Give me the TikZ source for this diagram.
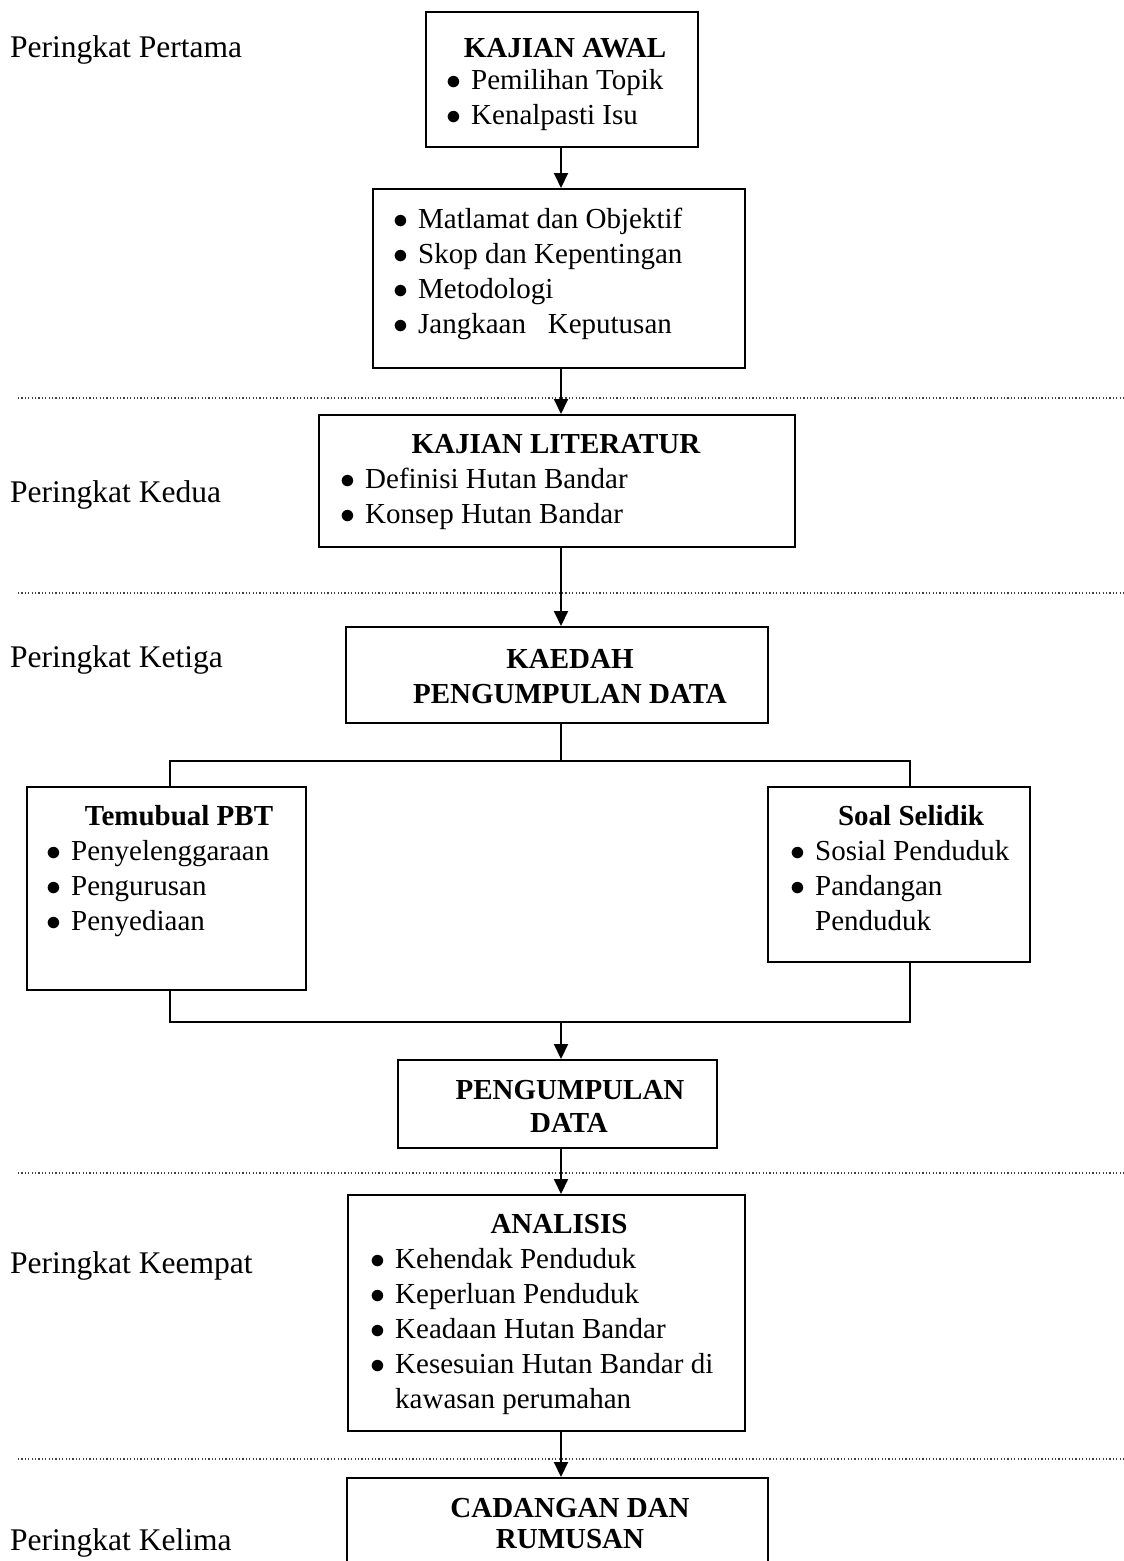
\documentclass[tikz,border=0pt]{standalone}
\usepackage{fontspec}
\setmainfont{Liberation Serif}
\usetikzlibrary{arrows.meta}

\newcommand{\butir}[1]{\makebox[23pt][l]{\hspace*{-2pt}\scalebox{1.2}{$\bullet$}}#1}

\begin{document}
\begin{tikzpicture}[x=1pt,y=-1pt,
  font=\fontsize{29}{35}\selectfont,
  box/.style={draw, line width=2pt, inner sep=0pt},
  txt/.style={inner sep=0pt, anchor=base west},
  ttl/.style={inner sep=0pt, anchor=base, font=\fontsize{29}{35}\selectfont\bfseries},
  lbl/.style={inner sep=0pt, anchor=base west, font=\fontsize{31.5}{38}\selectfont},
  line/.style={line width=2pt},
  arr/.style={line width=2pt, -{Triangle[length=15pt,width=14pt]}},
  sep/.style={line width=1.2pt, black!75, dash pattern=on 1.2pt off 2.2pt}]
  \useasboundingbox (0,0) rectangle (1124,1561);
  \clip (0,0) rectangle (1124,1561);

  % 矢印の位置
  \coordinate (ax) at (561,0);
  \coordinate (lx) at (170,0);
  \coordinate (rx) at (910,0);

  % 段階のラベル
  \node[lbl] (p1) at (10,57) {Peringkat Pertama};
  \node[lbl] (p2) at (10,502) {Peringkat Kedua};
  \node[lbl] (p3) at (10,667) {Peringkat Ketiga};
  \node[lbl] (p4) at (10,1273) {Peringkat Keempat};
  \node[lbl] (p5) at (10,1550) {Peringkat Kelima};

  % 区切り線
  \draw[sep] (18,398) -- (1124,398);
  \draw[sep] (18,593) -- (1124,593);
  \draw[sep] (18,1173) -- (1124,1173);
  \draw[sep] (18,1459) -- (1124,1459);

  % 箱
  \node[box, minimum width=272, minimum height=135] (awal) at (562,79.5) {};
  \node[box, minimum width=372, minimum height=179] (tujuan) at (559,278.5) {};
  \node[box, minimum width=476, minimum height=132] (lit) at (557,481) {};
  \node[box, minimum width=422, minimum height=96] (kaedah) at (557,675) {};
  \node[box, minimum width=279, minimum height=203] (temu) at (166.5,888.5) {};
  \node[box, minimum width=262, minimum height=175] (soal) at (899,874.5) {};
  \node[box, minimum width=319, minimum height=88] (kumpul) at (557.5,1104) {};
  \node[box, minimum width=397, minimum height=236] (analisis) at (546.5,1313) {};
  \node[box, minimum width=421, minimum height=162] (cadangan) at (557.5,1559) {};

  % 箱の中身
  \node[ttl] (awal-t) at (565,57) {KAJIAN AWAL};
  \foreach \t [count=\i] in {Pemilihan Topik, Kenalpasti Isu}
    \node[txt] (awal-\i) at (448,54+35*\i) {\butir{\t}};

  \foreach \t [count=\i] in {Matlamat dan Objektif, Skop dan Kepentingan, Metodologi, Jangkaan\ \ \ Keputusan}
    \node[txt] (tujuan-\i) at (395,193+35*\i) {\butir{\t}};

  \node[ttl] (lit-t) at (556,453) {KAJIAN LITERATUR};
  \foreach \t [count=\i] in {Definisi Hutan Bandar, Konsep Hutan Bandar}
    \node[txt] (lit-\i) at (342,453+35*\i) {\butir{\t}};

  \node[ttl] (kaedah-t1) at (570,668) {KAEDAH};
  \node[ttl] (kaedah-t2) at (570,703) {PENGUMPULAN DATA};

  \node[ttl] (temu-t) at (179,825) {Temubual PBT};
  \foreach \t [count=\i] in {Penyelenggaraan, Pengurusan, Penyediaan}
    \node[txt] (temu-\i) at (48,825+35*\i) {\butir{\t}};

  \node[ttl] (soal-t) at (911,825) {Soal Selidik};
  \foreach \t [count=\i] in {Sosial Penduduk, Pandangan}
    \node[txt] (soal-\i) at (792,825+35*\i) {\butir{\t}};
  \node[txt] (soal-3) at (792,930) {\hspace*{23pt}Penduduk};

  \node[ttl] (kumpul-t1) at (570,1099) {PENGUMPULAN};
  \node[ttl] (kumpul-t2) at (569,1132) {DATA};

  \node[ttl] (analisis-t) at (559,1233) {ANALISIS};
  \foreach \t [count=\i] in {Kehendak Penduduk, Keperluan Penduduk, Keadaan Hutan Bandar, Kesesuian Hutan Bandar di}
    \node[txt] (analisis-\i) at (372,1233+35*\i) {\butir{\t}};
  \node[txt] (analisis-5) at (372,1408) {\hspace*{23pt}kawasan perumahan};

  \node[ttl] (cadangan-t1) at (570,1517) {CADANGAN DAN};
  \node[ttl] (cadangan-t2) at (570,1548) {RUMUSAN};

  % 矢印
  \draw[arr] (awal.south -| ax) -- (tujuan.north -| ax);
  \draw[arr] (tujuan.south -| ax) -- (lit.north -| ax);
  \draw[arr] (lit.south -| ax) -- (kaedah.north -| ax);

  % 分岐と合流
  \coordinate (split) at (561,761);
  \coordinate (join) at (561,1022);
  \draw[line] (kaedah.south -| ax) -- (split);
  \draw[line] (temu.north -| lx) |- (split) -| (soal.north -| rx);
  \draw[line] (temu.south -| lx) |- (join) -| (soal.south -| rx);
  \draw[arr] (join) -- (kumpul.north -| ax);

  \draw[arr] (kumpul.south -| ax) -- (analisis.north -| ax);
  \draw[arr] (analisis.south -| ax) -- (cadangan.north -| ax);
\end{tikzpicture}
\end{document}
